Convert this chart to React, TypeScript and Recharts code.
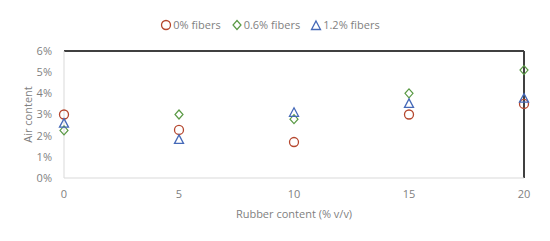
import { ScatterChart, Scatter, XAxis, YAxis, ReferenceLine } from "recharts";

const rubber = [0, 5, 10, 15, 20];
const fibers0 = [3.0, 2.27, 1.7, 3.0, 3.5];
const fibers06 = [2.25, 3.0, 2.78, 4.0, 5.1];
const fibers12 = [2.57, 1.8, 3.08, 3.5, 3.75];
const yTicks = [0, 1, 2, 3, 4, 5, 6];
const xTicks = [0, 5, 10, 15, 20];

const toPoints = (vals: number[]) => rubber.map((x, i) => ({ x, y: vals[i] }));

const font = "'Open Sans', 'Liberation Sans', sans-serif";
const textGray = "#7f7f7f";

const CircleMark = (p: any) => (
  <circle cx={p.cx} cy={p.cy} r={4.5} fill="none" stroke="#b5472e" strokeWidth={1.3} />
);
const DiamondMark = (p: any) => (
  <polygon
    points={`${p.cx},${p.cy - 4.5} ${p.cx + 4},${p.cy} ${p.cx},${p.cy + 4.5} ${p.cx - 4},${p.cy}`}
    fill="none"
    stroke="#5a9a45"
    strokeWidth={1.2}
  />
);
const TriangleMark = (p: any) => (
  <polygon
    points={`${p.cx},${p.cy - 5} ${p.cx + 4.5},${p.cy + 3.5} ${p.cx - 4.5},${p.cy + 3.5}`}
    fill="none"
    stroke="#4569b8"
    strokeWidth={1.3}
  />
);

function LegendRow() {
  const item = (mark: any, label: string) => (
    <span style={{ display: "inline-flex", alignItems: "center", marginRight: 10 }}>
      <svg width={12} height={12} style={{ marginRight: 1 }}>
        {mark}
      </svg>
      {label}
    </span>
  );
  return (
    <div
      style={{
        position: "absolute",
        top: 17,
        left: 0,
        width: 550,
        textAlign: "center",
        fontFamily: font,
        fontSize: 11,
        color: textGray,
        paddingLeft: 0,
      }}
    >
      {item(<CircleMark cx={6} cy={6} />, "0% fibers")}
      {item(<DiamondMark cx={6} cy={6} />, "0.6% fibers")}
      {item(<TriangleMark cx={6} cy={7} />, "1.2% fibers")}
    </div>
  );
}

export default function App() {
  return (
    <div style={{ position: "relative", width: 550, height: 241, margin: -8, background: "#fff" }}>
      <div
        style={{
          position: "absolute",
          left: 5,
          top: 5,
          width: 538,
          height: 229,
          border: "1px solid #d9dde6",
          borderRadius: 4,
        }}
      />
      <LegendRow />
      <div style={{ position: "absolute", left: 0, top: 0 }}>
        <ScatterChart
          width={550}
          height={241}
          margin={{ top: 51, right: 26, left: 20, bottom: 8 }}
        >
          <XAxis
            type="number"
            dataKey="x"
            domain={[0, 20]}
            ticks={xTicks}
            tickLine={false}
            axisLine={{ stroke: "#d9d9d9" }}
            tick={{ fill: textGray, fontSize: 11, fontFamily: font }}
            height={55}
            tickMargin={6}
            label={{
              value: "Rubber content (% v/v)",
              position: "insideBottom",
              offset: 15,
              fill: textGray,
              fontSize: 11,
              fontFamily: font,
            }}
          />
          <YAxis
            type="number"
            dataKey="y"
            domain={[0, 6]}
            ticks={yTicks}
            tickFormatter={(v: number) => `${v}%`}
            tickLine={false}
            axisLine={{ stroke: "#d9d9d9" }}
            tick={{ fill: textGray, fontSize: 11, fontFamily: font }}
            width={44}
            tickMargin={6}
            label={{
              value: "Air content",
              angle: -90,
              position: "insideLeft",
              offset: 8,
              fill: textGray,
              fontSize: 11,
              fontFamily: font,
              style: { textAnchor: "middle" },
            }}
          />
          <ReferenceLine y={6} stroke="#404040" strokeWidth={2} />
          <ReferenceLine x={20} stroke="#404040" strokeWidth={2} />
          <Scatter data={toPoints(fibers0)} shape={CircleMark} isAnimationActive={false} />
          <Scatter data={toPoints(fibers06)} shape={DiamondMark} isAnimationActive={false} />
          <Scatter data={toPoints(fibers12)} shape={TriangleMark} isAnimationActive={false} />
        </ScatterChart>
      </div>
    </div>
  );
}
